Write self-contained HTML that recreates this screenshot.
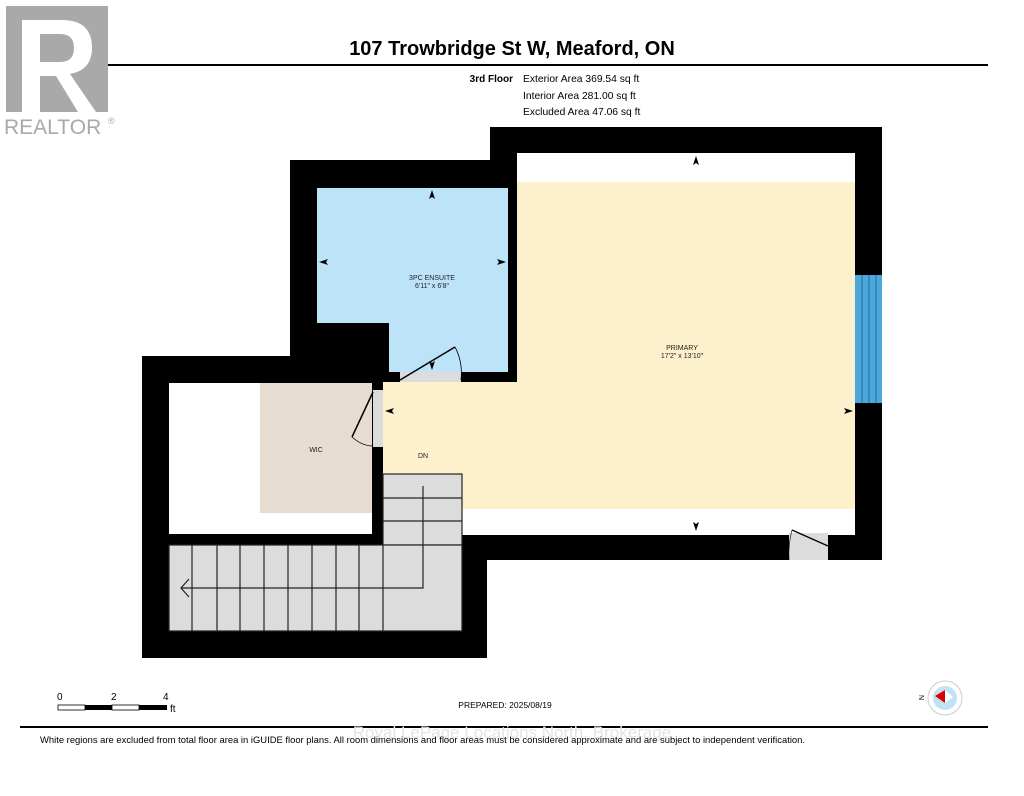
<!DOCTYPE html>
<html><head><meta charset="utf-8"><style>
body{margin:0;width:1024px;height:791px;background:#fff;overflow:hidden;font-family:"Liberation Sans",sans-serif;}
</style></head><body>
<svg width="1024" height="791" viewBox="0 0 1024 791" xmlns="http://www.w3.org/2000/svg" font-family="Liberation Sans, sans-serif">
<rect x="28" y="64" width="960" height="2" fill="#000"/>
<!-- Realtor logo -->
<rect x="6" y="6" width="102" height="106" fill="#a9a9a9"/>
<path d="M22 20 H62 Q92 20 92 48 Q92 70 70 74 L96 112 H78 L56 76 H40 V112 H22 Z M40 34 V62 H60 Q74 62 74 48 Q74 34 60 34 Z" fill="#fff"/>
<text x="4" y="134" font-size="21" fill="#a9a9a9">REALTOR</text>
<text x="108" y="124" font-size="9" fill="#a9a9a9">®</text>
<!-- header -->
<text x="512" y="55" font-size="20" font-weight="bold" text-anchor="middle" fill="#000">107 Trowbridge St W, Meaford, ON</text>
<text x="513" y="82" font-size="10" font-weight="bold" text-anchor="end">3rd Floor</text>
<text x="523" y="82" font-size="10.3">Exterior Area 369.54 sq ft</text>
<text x="523" y="99" font-size="10.3">Interior Area 281.00 sq ft</text>
<text x="523" y="115" font-size="10.3">Excluded Area 47.06 sq ft</text>
<!-- walls -->
<path d="M490 127 H882 V560 H487 V658 H142 V356 H290 V160 H490 Z" fill="#000"/>
<!-- primary -->
<rect x="517" y="153" width="338" height="382" fill="#fff"/>
<rect x="517" y="182" width="338" height="327" fill="#fdf0cc"/>
<rect x="383" y="382" width="472" height="127" fill="#fdf0cc"/>
<rect x="462" y="509" width="393" height="26" fill="#fff"/>
<!-- ensuite -->
<path d="M317 188 H508 V372 H389 V323 H317 Z" fill="#bde3f9"/>
<rect x="400" y="372" width="61" height="10" fill="#dcdcdc"/>
<path d="M400 380 L455 347" stroke="#000" stroke-width="1.5"/>
<path d="M455 347 Q463 362 461 380" stroke="#000" fill="none" stroke-width="0.8"/>
<!-- WIC -->
<rect x="169" y="383" width="203" height="151" fill="#fff"/>
<rect x="260" y="383" width="112" height="130" fill="#e6ddd0"/>
<rect x="373" y="390" width="10" height="57" fill="#dcdcdc"/>
<path d="M373 392 L352 437" stroke="#000" stroke-width="1.5"/>
<path d="M352 437 Q362 446 373 446" stroke="#000" fill="none" stroke-width="0.8"/>
<!-- stairs -->
<g stroke="#222" stroke-width="1.2" fill="#dcdcdc">
<rect x="383" y="474" width="79" height="71"/>
<rect x="169" y="545" width="293" height="86"/>
<line x1="383" y1="498" x2="462" y2="498"/><line x1="383" y1="521" x2="462" y2="521"/>
<line x1="192" y1="545" x2="192" y2="631"/><line x1="217" y1="545" x2="217" y2="631"/>
<line x1="240" y1="545" x2="240" y2="631"/><line x1="264" y1="545" x2="264" y2="631"/>
<line x1="288" y1="545" x2="288" y2="631"/><line x1="312" y1="545" x2="312" y2="631"/>
<line x1="336" y1="545" x2="336" y2="631"/><line x1="359" y1="545" x2="359" y2="631"/>
<line x1="383" y1="545" x2="383" y2="631"/>
<polyline points="423,486 423,588 181,588" fill="none"/>
<polyline points="189,579 181,588 189,597" fill="none"/>
</g>
<!-- window -->
<rect x="855" y="275" width="27" height="128" fill="#4aa8dc"/>
<g stroke="#1c5c88" stroke-width="0.8"><line x1="862" y1="275" x2="862" y2="403"/><line x1="869" y1="275" x2="869" y2="403"/><line x1="876" y1="275" x2="876" y2="403"/></g>
<!-- bottom door -->
<rect x="789" y="533" width="39" height="27" fill="#dcdcdc"/>
<path d="M792 530 L828 546" stroke="#000" stroke-width="1.3"/>
<path d="M792 530 Q788 545 789 560" stroke="#000" fill="none" stroke-width="0.6"/>
<!-- arrows -->
<g fill="#000">
<path d="M696 156 l-3 9 3-2 3 2z"/><path d="M696 531 l-3 -9 3 2 3 -2z"/>
<path d="M432 190 l-3 9 3-2 3 2z"/><path d="M432 370 l-3 -9 3 2 3 -2z"/>
<path d="M319 262 l9 -3 -2 3 2 3z"/><path d="M506 262 l-9 -3 2 3 -2 3z"/>
<path d="M385 411 l9 -3 -2 3 2 3z"/><path d="M853 411 l-9 -3 2 3 -2 3z"/>
</g>
<!-- labels -->
<g font-size="7" text-anchor="middle" fill="#222">
<text x="432" y="280">3PC ENSUITE</text><text x="432" y="288">6'11" x 6'8"</text>
<text x="682" y="350">PRIMARY</text><text x="682" y="358">17'2" x 13'10"</text>
<text x="316" y="452">WIC</text><text x="423" y="458">DN</text>
</g>
<!-- scale -->
<g font-size="10"><text x="57" y="700">0</text><text x="111" y="700">2</text><text x="163" y="700">4</text><text x="170" y="712">ft</text></g>
<rect x="58" y="705" width="27" height="5" fill="#fff" stroke="#000" stroke-width="0.8"/>
<rect x="85" y="705" width="27" height="5" fill="#000"/>
<rect x="112" y="705" width="27" height="5" fill="#fff" stroke="#000" stroke-width="0.8"/>
<rect x="139" y="705" width="28" height="5" fill="#000"/>
<text x="505" y="708" font-size="8.5" text-anchor="middle">PREPARED: 2025/08/19</text>
<!-- compass -->
<circle cx="945" cy="698" r="17" fill="#fff" stroke="#ccc"/>
<circle cx="945" cy="698" r="12" fill="#bfe3f5"/>
<path d="M935 696 L945 690 L945 703 Z" fill="#d00"/>
<path d="M945 690 L953 697 L945 703 Z" fill="#fff"/>
<text x="921" y="697" font-size="7" transform="rotate(90 921 695)">N</text>
<rect x="20" y="726" width="968" height="2" fill="#000"/>
<text x="512" y="738" font-size="17" text-anchor="middle" fill="#e4e4e4">Royal LePage Locations North, Brokerage</text>
<text x="40" y="743" font-size="9.3" textLength="765" lengthAdjust="spacingAndGlyphs">White regions are excluded from total floor area in iGUIDE floor plans. All room dimensions and floor areas must be considered approximate and are subject to independent verification.</text>
</svg>
</body></html>
